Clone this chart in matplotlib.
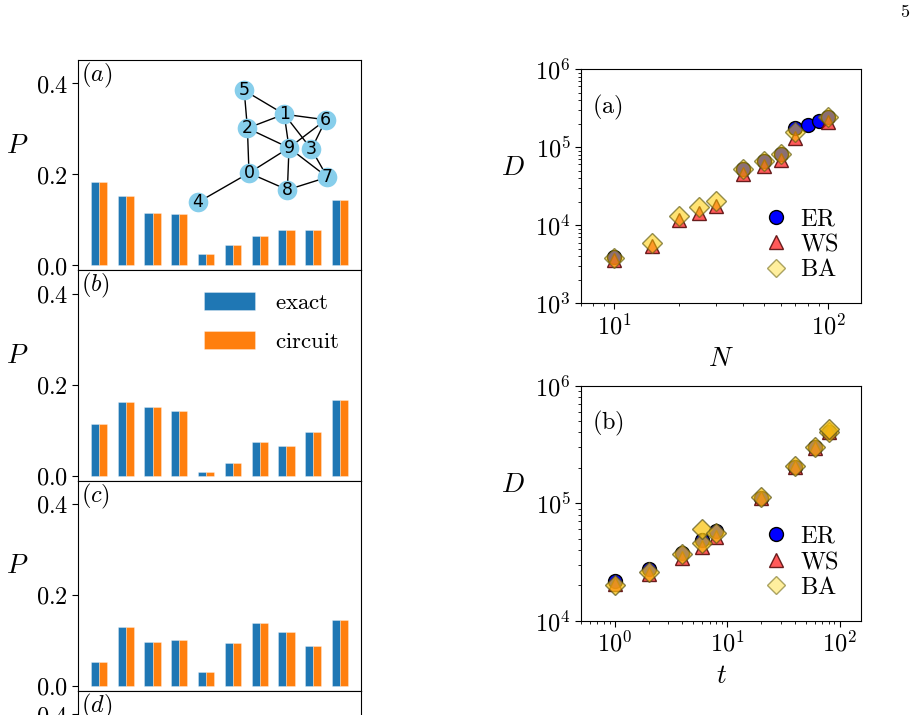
import numpy as np
import matplotlib
matplotlib.use('Agg')
import matplotlib.pyplot as plt
from matplotlib.lines import Line2D
from matplotlib.ticker import FuncFormatter

plt.rcParams['mathtext.fontset'] = 'cm'
plt.rcParams['font.family'] = 'serif'
plt.rcParams['font.serif'] = ['DejaVu Serif']
plt.rcParams['axes.linewidth'] = 0.8

# ---------------- data ----------------
states = np.arange(10)
P_exact_a = [0.182, 0.153, 0.114, 0.112, 0.024, 0.044, 0.064, 0.078, 0.078, 0.144]
P_circuit_a = [0.182, 0.153, 0.114, 0.112, 0.024, 0.044, 0.064, 0.078, 0.078, 0.144]
P_exact_b = [0.113, 0.161, 0.150, 0.142, 0.008, 0.027, 0.073, 0.066, 0.095, 0.166]
P_circuit_b = [0.113, 0.161, 0.150, 0.142, 0.008, 0.027, 0.073, 0.066, 0.095, 0.166]
P_exact_c = [0.053, 0.129, 0.097, 0.100, 0.031, 0.095, 0.139, 0.118, 0.088, 0.144]
P_circuit_c = [0.053, 0.129, 0.097, 0.100, 0.031, 0.095, 0.139, 0.118, 0.088, 0.144]

# graph drawn in panel (a): node layout (normalised) and edges
node_ids = list(range(10))
node_x = [0.40, 0.62, 0.39, 0.79, 0.08, 0.37, 0.88, 0.89, 0.64, 0.65]
node_y = [0.30, 0.72, 0.62, 0.47, 0.09, 0.89, 0.68, 0.27, 0.18, 0.48]
edges = [(0, 2), (0, 4), (0, 8), (0, 9), (1, 2), (1, 5), (1, 6), (1, 9), (1, 3),
         (2, 5), (2, 9), (3, 6), (3, 7), (6, 9), (7, 8), (7, 9), (8, 9)]

# D vs N
N_ER = [10, 40, 50, 60, 70, 80, 90, 100]
D_ER_N = [3.9e3, 5.2e4, 6.6e4, 8.1e4, 1.74e5, 1.92e5, 2.18e5, 2.4e5]
N_WS = [10, 15, 20, 25, 30, 40, 50, 60, 70, 100]
D_WS_N = [3.6e3, 5.4e3, 1.15e4, 1.45e4, 1.76e4, 4.5e4, 5.7e4, 6.9e4, 1.3e5, 2.1e5]
N_BA = [10, 15, 20, 25, 30, 40, 50, 60, 70, 100]
D_BA_N = [3.8e3, 6.0e3, 1.32e4, 1.73e4, 2.06e4, 5.2e4, 6.6e4, 8.1e4, 1.57e5, 2.45e5]

# D vs t
t_ER = [1, 2, 4, 6, 8, 20, 40, 60, 80]
D_ER_t = [2.19e4, 2.74e4, 3.79e4, 4.87e4, 5.77e4, 1.11e5, 2.05e5, 2.99e5, 4.06e5]
t_WS = [1, 2, 4, 6, 8, 20, 40, 60, 80]
D_WS_t = [2.05e4, 2.49e4, 3.43e4, 4.27e4, 5.19e4, 1.10e5, 2.04e5, 2.97e5, 4.0e5]
t_BA = [1, 2, 4, 6, 6, 8, 20, 40, 60, 80, 80]
D_BA_t = [2.01e4, 2.59e4, 3.67e4, 4.61e4, 6.0e4, 5.61e4, 1.12e5, 2.06e5, 3.0e5, 4.06e5, 4.26e5]

# ---------------- figure ----------------
W, H = 921, 715
fig = plt.figure(figsize=(W / 100, H / 100), dpi=100)

def fig_rect(x0, y0, x1, y1):
    return [x0 / W, 1 - y1 / H, (x1 - x0) / W, (y1 - y0) / H]

blue = '#1f77b4'
orange = '#ff7f0e'
FS = 17.5

left_tops = [60, 270.3, 480.6, 690.9]
ph = 210.3
labels = ['a', 'b', 'c', 'd']
data_sets = [(P_exact_a, P_circuit_a), (P_exact_b, P_circuit_b), (P_exact_c, P_circuit_c), None]
fmt = FuncFormatter(lambda v, _: rf'${v:.1f}$')
left_axes = []
for top, lab, ds in zip(left_tops, labels, data_sets):
    ax = fig.add_axes(fig_rect(78, top, 361, top + ph))
    if ds is not None:
        ax.bar(states - 0.15, ds[0], 0.3, color=blue, label='exact',
               edgecolor=(1, 1, 1, 0.35), linewidth=0.6)
        ax.bar(states + 0.15, ds[1], 0.3, color=orange, label='circuit',
               edgecolor=(1, 1, 1, 0.35), linewidth=0.6)
    ax.set_xlim(-0.78, 9.78)
    ax.set_ylim(-0.011, 0.451)
    ax.set_yticks([0.0, 0.2, 0.4])
    ax.yaxis.set_major_formatter(fmt)
    ax.set_xticks([])
    ax.tick_params(axis='y', direction='out', length=4, width=0.8, labelsize=FS, pad=3)
    ax.set_ylabel('$P$', rotation=0, fontsize=FS + 2)
    ax.yaxis.set_label_coords(-0.215, 0.53)
    ax.text(0.01, 0.995, rf'$({lab})$', transform=ax.transAxes, ha='left', va='top', fontsize=FS)
    left_axes.append(ax)

LFS = 16.5
leg = left_axes[1].legend(loc='upper right', frameon=False,
                          handlelength=2.25, handleheight=0.85, labelspacing=0.72,
                          handletextpad=0.85, borderaxespad=0.55,
                          prop={'family': 'serif', 'size': LFS})
for t in leg.get_texts():
    t.set_text(r'$\mathrm{' + t.get_text() + '}$')

# graph inset
gax = fig.add_axes(fig_rect(185, 75, 345, 215))
gax.set_xlim(0, 1)
gax.set_ylim(0, 1)
gax.axis('off')
for a, b in edges:
    gax.plot([node_x[a], node_x[b]], [node_y[a], node_y[b]], color='black', lw=1.0, zorder=1)
gax.scatter(node_x, node_y, s=200, color='#87ceeb', zorder=2, linewidths=0)
for i in node_ids:
    gax.text(node_x[i], node_y[i], str(i), ha='center', va='center', fontsize=12.5,
             family='DejaVu Sans', zorder=3)

# ---------------- right panels ----------------
logfmt = FuncFormatter(lambda v, _: rf'$10^{{{int(round(np.log10(v)))}}}$')

ER_kw = dict(marker='o', ls='none', ms=10, mfc=(0, 0, 1, 1), mec='black', mew=1.0)
WS_kw = dict(marker='^', ls='none', ms=9.5, mfc=(1, 0.1, 0.1, 0.72), mec=(0.35, 0.05, 0.05, 0.9), mew=1.0)

def setup_log_ax(ax, xlim, ylim, xlabel, panel):
    ax.set_xscale('log')
    ax.set_yscale('log')
    ax.set_xlim(*xlim)
    ax.set_ylim(*ylim)
    ax.xaxis.set_major_formatter(logfmt)
    ax.yaxis.set_major_formatter(logfmt)
    ax.tick_params(which='major', direction='out', length=4, width=0.8, labelsize=FS)
    ax.tick_params(which='minor', direction='out', length=2.2, width=0.6)
    ax.set_xlabel(xlabel, fontsize=FS + 2, labelpad=4)
    ax.set_ylabel('$D$', rotation=0, fontsize=FS + 2)
    ax.yaxis.set_label_coords(-0.245, 0.52)
    ax.text(0.04, 0.90, r'$\mathrm{(' + panel + ')}$', transform=ax.transAxes,
            ha='left', va='top', fontsize=FS)
    handles = [Line2D([], [], marker='o', ls='none', ms=10, mfc='blue', mec='black', mew=1.0),
               Line2D([], [], marker='^', ls='none', ms=10, mfc=(1, 0.1, 0.1, 0.72),
                      mec=(0.35, 0.05, 0.05, 0.9), mew=1.0),
               Line2D([], [], marker='D', ls='none', ms=9.5, mfc=(1, 0.84, 0, 0.38),
                      mec=(0.45, 0.42, 0.1, 0.6), mew=1.0)]
    ax.legend(handles, [r'$\mathrm{ER}$', r'$\mathrm{WS}$', r'$\mathrm{BA}$'],
              loc='lower right', frameon=False, fontsize=FS, handletextpad=0.3,
              labelspacing=0.1, borderaxespad=0.5, handlelength=1.4)

axr1 = fig.add_axes(fig_rect(581, 69, 861, 303.3))
axr1.plot(N_ER, D_ER_N, **ER_kw)
axr1.plot(N_WS, D_WS_N, **WS_kw)
axr1.plot(N_BA, D_BA_N, marker='D', ls='none', ms=10.5, mfc=(1, 0.8, 0, 0.55),
          mec=(0.4, 0.38, 0.1, 0.7), mew=1.0)
setup_log_ax(axr1, (7, 142), (1e3, 1e6), '$N$', 'a')

axr2 = fig.add_axes(fig_rect(581, 385.7, 861, 620.7))
axr2.plot(t_ER, D_ER_t, **ER_kw)
axr2.plot(t_WS, D_WS_t, **WS_kw)
axr2.plot(t_BA, D_BA_t, marker='D', ls='none', ms=10.5, mfc=(0.98, 0.76, 0.05, 0.72),
          mec=(0.35, 0.33, 0.1, 0.7), mew=1.0)
setup_log_ax(axr2, (0.5, 155), (1e4, 1e6), '$t$', 'b')

fig.text(905 / W, 1 - 12 / H, r'$\mathrm{5}$', ha='center', va='center', fontsize=13)

fig.savefig('out.png', dpi=100)
